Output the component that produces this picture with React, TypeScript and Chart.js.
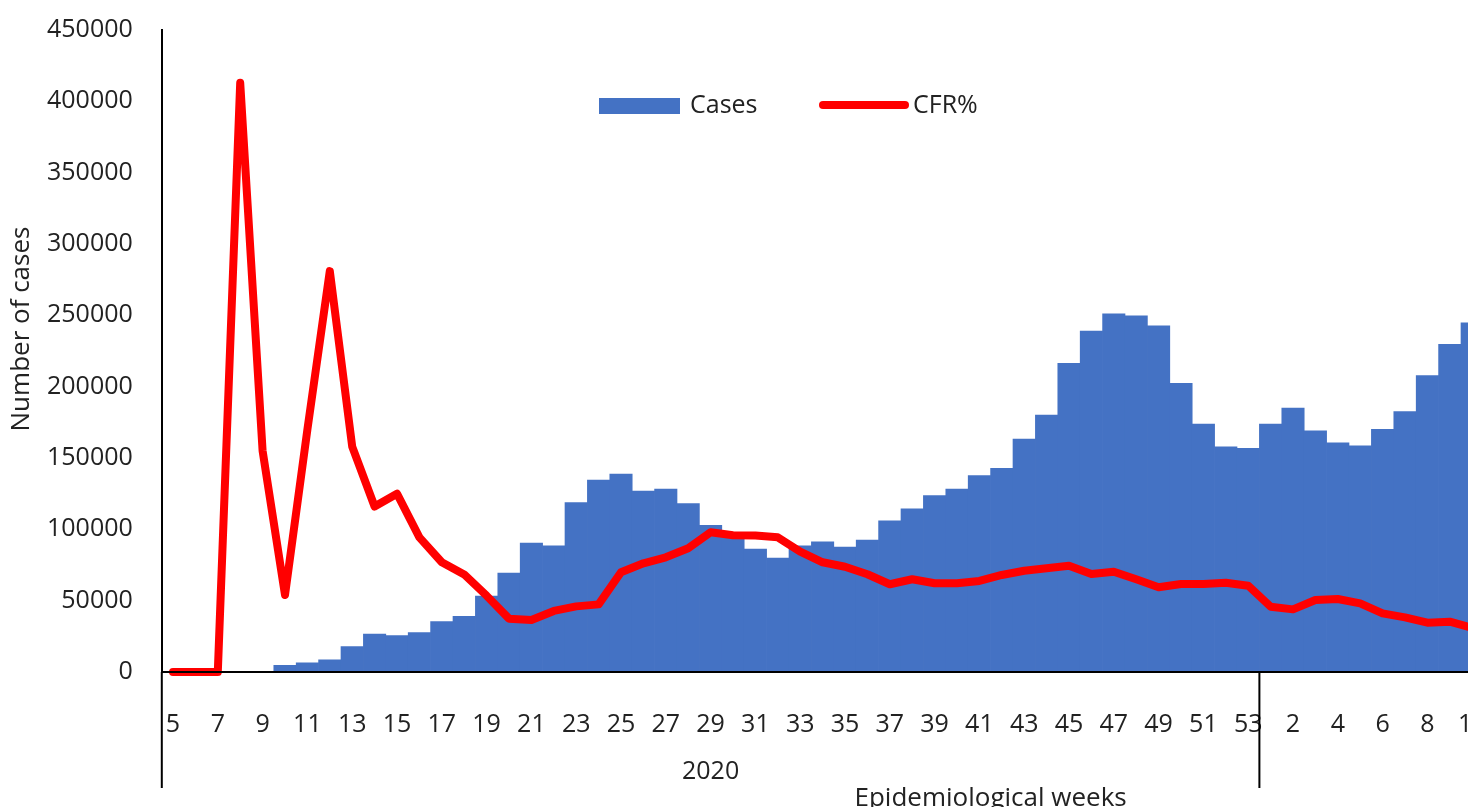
import { useEffect, useRef } from 'react';
import { Chart, registerables } from 'chart.js';

Chart.register(...registerables);

// ---- data ----
const weeks2020 = ['5','6','7','8','9','10','11','12','13','14','15','16','17','18','19','20','21','22','23','24','25','26','27','28','29','30','31','32','33','34','35','36','37','38','39','40','41','42','43','44','45','46','47','48','49','50','51','52','53'];
const weeks2021 = ['1','2','3','4','5','6','7','8','9','10'];
const categories = [...weeks2020, ...weeks2021];

const cases2020 = [0, 0, 0, 0, 500, 4600, 6500, 8500, 17800, 26500, 25500, 27700, 35300, 39000, 53200, 69300, 90300, 88500, 118700, 134600, 138800, 126900, 128300, 118000, 102800, 96000, 86200, 79900, 88500, 91300, 87600, 92500, 106000, 114300, 123600, 128300, 137600, 142800, 163300, 180100, 216400, 239000, 251100, 249700, 242700, 202300, 173800, 157900, 156800];
const cases2021 = [173800, 185000, 169100, 160700, 158600, 170100, 182500, 207700, 229700, 244800];

// CFR% curve, read in units of the (visible) case axis
const cfr2020 = [0, 0, 0, 413000, 155000, 54000, 170000, 281000, 158000, 116000, 125000, 94400, 76900, 68400, 53500, 37400, 36500, 42800, 46000, 47400, 69900, 76200, 80400, 86700, 97900, 95800, 95600, 94400, 84300, 76900, 73800, 68500, 61500, 65000, 62200, 62200, 63800, 68000, 71000, 72700, 74500, 68700, 70300, 65000, 59400, 61700, 61700, 62600, 60500];
const cfr2021 = [45800, 43900, 50500, 51200, 48100, 41100, 38300, 34600, 35300, 31000];

const yMin = 0;
const yMax = 450000;
const yStep = 50000;

const groupLabels = ['2020'];
const xTitle = 'Epidemiological weeks';
const yTitle = 'Number of cases';
const FULL_AXIS_WEEKS = 74; // the original axis continues past the visible crop

// ---- styles ----
const FONT = "'Open Sans'";
const TEXT = '#222222';
const BLUE = '#4472C4';
const RED = '#FF0000';

const extras = {
  id: 'extras',
  afterDraw(chart: any) {
    const { ctx, chartArea: a, scales } = chart;
    const x = scales.x;
    const n2020 = weeks2020.length;
    const sep = (x.getPixelForValue(n2020 - 1) + x.getPixelForValue(n2020)) / 2;
    const step = x.getPixelForValue(1) - x.getPixelForValue(0);
    const groupBottom = a.bottom + 116;

    ctx.save();
    ctx.strokeStyle = '#000';
    ctx.lineWidth = 2;
    ctx.beginPath();
    ctx.moveTo(a.left, a.bottom);
    ctx.lineTo(a.left, groupBottom);
    ctx.moveTo(sep, a.bottom);
    ctx.lineTo(sep, groupBottom);
    ctx.stroke();

    ctx.fillStyle = TEXT;
    ctx.font = `25px ${FONT}`;
    ctx.textAlign = 'center';
    ctx.textBaseline = 'middle';
    ctx.fillText(groupLabels[0], (a.left + sep) / 2, a.bottom + 100);

    ctx.font = `26px ${FONT}`;
    ctx.textBaseline = 'alphabetic';
    ctx.fillText(xTitle, a.left + (step * FULL_AXIS_WEEKS) / 2, a.bottom + 134);

    ctx.save();
    ctx.translate(29, 329);
    ctx.rotate(-Math.PI / 2);
    ctx.fillText(yTitle, 0, 0);
    ctx.restore();

    // legend
    const ds = chart.data.datasets;
    const bar = ds.find((d: any) => d.type !== 'line');
    const line = ds.find((d: any) => d.type === 'line');
    const ly = 106;
    ctx.font = `25px ${FONT}`;
    ctx.textAlign = 'left';
    ctx.textBaseline = 'middle';
    ctx.fillStyle = bar.backgroundColor;
    ctx.fillRect(599, ly - 8, 81, 16);
    ctx.fillStyle = TEXT;
    ctx.fillText(bar.label, 690, ly);

    ctx.strokeStyle = line.borderColor;
    ctx.lineWidth = line.borderWidth;
    ctx.lineCap = 'round';
    ctx.beginPath();
    ctx.moveTo(823, ly - 1);
    ctx.lineTo(905, ly - 1);
    ctx.stroke();
    ctx.fillStyle = TEXT;
    ctx.fillText(line.label, 913, ly);
    ctx.restore();
  },
};

export default function App() {
  const ref = useRef<HTMLCanvasElement | null>(null);

  useEffect(() => {
    if (!ref.current) return;
    Chart.defaults.font.family = FONT;
    Chart.defaults.font.size = 25;
    Chart.defaults.color = TEXT;

    const chart = new Chart(ref.current, {
      type: 'bar',
      data: {
        labels: categories,
        datasets: [
          {
            type: 'line',
            label: 'CFR%',
            data: [...cfr2020, ...cfr2021],
            borderColor: RED,
            backgroundColor: RED,
            borderWidth: 8,
            pointRadius: 0,
            tension: 0,
            borderCapStyle: 'round',
            borderJoinStyle: 'round',
            clip: false,
            order: 0,
          } as any,
          {
            type: 'bar',
            label: 'Cases',
            data: [...cases2020, ...cases2021],
            backgroundColor: BLUE,
            borderWidth: 0,
            barPercentage: 1,
            categoryPercentage: 1,
            order: 1,
          },
        ],
      },
      options: {
        responsive: false,
        animation: false,
        layout: { padding: { top: 30, right: 116.6, bottom: 0, left: 0 } },
        plugins: {
          legend: { display: false },
          tooltip: { enabled: false },
        },
        scales: {
          x: {
            grid: { display: false, drawTicks: false },
            border: { display: true, color: '#000', width: 2, z: 1 },
            ticks: {
              autoSkip: false,
              maxRotation: 0,
              padding: 38,
              color: TEXT,
              font: { size: 25, family: FONT },
              callback: (_v: any, i: number) => (i % 2 === 0 ? categories[i] : ''),
            },
            afterFit: (s: any) => {
              s.height = 135;
              s.paddingLeft = 0;
              s.paddingRight = 0;
            },
          },
          y: {
            min: yMin,
            max: yMax,
            grid: { display: false, drawTicks: false },
            border: { display: true, color: '#000', width: 2, z: 1 },
            ticks: {
              stepSize: yStep,
              padding: 29,
              color: TEXT,
              font: { size: 25, family: FONT },
              callback: (v: any) => String(v),
            },
            afterFit: (s: any) => {
              s.width = 161.8;
              s.paddingTop = 0;
              s.paddingBottom = 0;
            },
          },
        },
      },
      plugins: [extras],
    });
    return () => chart.destroy();
  }, []);

  return (
    <div style={{ position: 'fixed', left: 0, top: 0, width: 1468, height: 807, overflow: 'hidden', background: '#fff' }}>
      <canvas ref={ref} width={1600} height={807} style={{ display: 'block', width: 1600, height: 807 }} />
    </div>
  );
}
